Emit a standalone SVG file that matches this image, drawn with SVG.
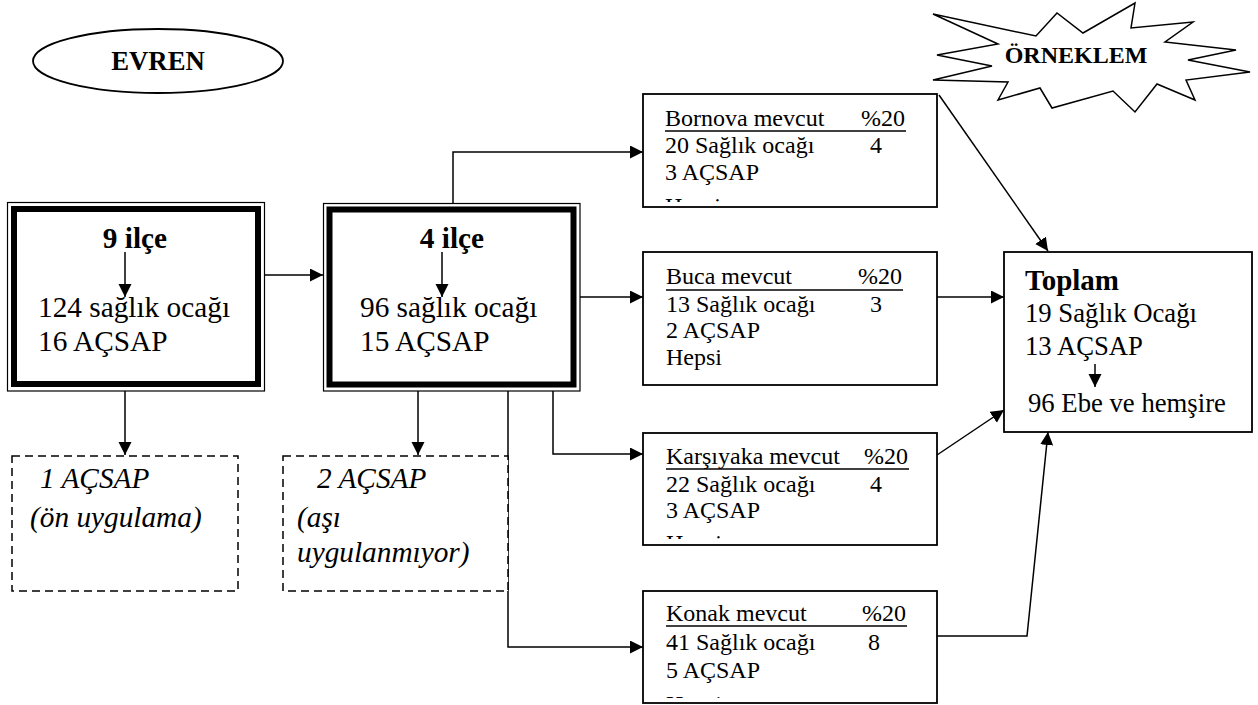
<svg xmlns="http://www.w3.org/2000/svg" width="1258" height="705" viewBox="0 0 1258 705">
<style>
text{font-family:"Liberation Serif","Times New Roman",serif;fill:#000}
.big{font-size:29.3px}
.bigb{font-size:29.3px;font-weight:bold}
.it{font-size:29.3px;font-style:italic}
.sm{font-size:24px}
.md{font-size:26.7px}
.line{fill:none;stroke:#000;stroke-width:1.5}
.arr{fill:none;stroke:#000;stroke-width:1.5;marker-end:url(#ah)}
.box{fill:#fff;stroke:#000;stroke-width:1.8}
.dash{fill:#fff;stroke:#000;stroke-width:1.5;stroke-dasharray:8 5}
</style>
<defs>
<marker id="ah" markerUnits="userSpaceOnUse" markerWidth="14" markerHeight="14" refX="13" refY="6.5" orient="auto">
<path d="M0,0 L13,6.5 L0,13 Z" fill="#000"/>
</marker>
<clipPath id="cBor"><rect x="640" y="90" width="300" height="112"/></clipPath>
<clipPath id="cKar"><rect x="640" y="430" width="300" height="109"/></clipPath>
<clipPath id="cKon"><rect x="640" y="588" width="300" height="110"/></clipPath>
</defs>

<g id="evren">
<ellipse cx="158" cy="61" rx="125" ry="32" fill="#fff" stroke="#000" stroke-width="1.8"/>
<text x="158" y="70" text-anchor="middle" style="font-size:26.7px;font-weight:bold">EVREN</text>
</g>

<g id="orneklem">
<polygon points="933,14 1036,36 1057,13 1083,33 1135,3 1131,28 1193,22 1165,42 1236,50 1188,60 1250,72 1186,80 1195,100 1157,84 1135,112 1113,91 1052,108 1040,88 998,100 1008,82 933,80 992,66 937,55 998,44" fill="#fff" stroke="#000" stroke-width="1.5" stroke-linejoin="miter"/>
<text x="1076" y="63" text-anchor="middle" style="font-size:24px;font-weight:bold">ÖRNEKLEM</text>
</g>

<g id="connectors">
<line class="arr" x1="265" y1="275" x2="323" y2="275"/>
<polyline class="arr" points="453,203 453,152 643,152"/>
<line class="arr" x1="580" y1="297" x2="643" y2="297"/>
<polyline class="arr" points="553,391 553,454 643,454"/>
<polyline class="arr" points="508,391 508,647 643,647"/>
<line class="arr" x1="125" y1="391" x2="125" y2="455"/>
<line class="arr" x1="418" y1="391" x2="418" y2="455"/>
<line class="arr" x1="939" y1="95" x2="1048" y2="251"/>
<line class="arr" x1="937" y1="297" x2="1004" y2="297"/>
<line class="arr" x1="937" y1="455" x2="1004" y2="410"/>
<polyline class="arr" points="937,636 1027,636 1048,432"/>
</g>

<g id="box-9ilce">
<rect x="7.5" y="202.5" width="257" height="188.5" fill="#fff" stroke="#000" stroke-width="1.2"/>
<rect x="14" y="209" width="244" height="175" fill="none" stroke="#000" stroke-width="6"/>
<text class="bigb" x="135" y="248" text-anchor="middle">9 ilçe</text>
<line class="arr" x1="125" y1="252" x2="125" y2="297"/>
<text class="big" x="38" y="317">124 sağlık ocağı</text>
<text class="big" x="38" y="351">16 AÇSAP</text>
</g>

<g id="box-4ilce">
<rect x="323.5" y="203.5" width="256.5" height="187.5" fill="#fff" stroke="#000" stroke-width="1.2"/>
<rect x="329.5" y="209.5" width="244" height="175" fill="none" stroke="#000" stroke-width="6"/>
<text class="bigb" x="452" y="248" text-anchor="middle">4 ilçe</text>
<line class="arr" x1="442" y1="252" x2="442" y2="297"/>
<text class="big" x="360" y="317">96 sağlık ocağı</text>
<text class="big" x="360" y="351">15 AÇSAP</text>
</g>

<g id="dashed-1">
<rect class="dash" x="12" y="456" width="226" height="135"/>
<text class="it" x="40" y="488">1 AÇSAP</text>
<text class="it" x="30" y="527">(ön uygulama)</text>
</g>

<g id="dashed-2">
<rect class="dash" x="283" y="456" width="225" height="135"/>
<text class="it" x="317" y="488">2 AÇSAP</text>
<text class="it" x="297" y="527">(aşı</text>
<text class="it" x="297" y="562">uygulanmıyor)</text>
</g>

<g id="bornova">
<rect class="box" x="643" y="94" width="294" height="113"/>
<text class="sm" x="665" y="126">Bornova mevcut</text>
<text class="sm" x="905" y="126" text-anchor="end">%20</text>
<line x1="665" y1="131" x2="906" y2="131" stroke="#000" stroke-width="1.5"/>
<text class="sm" x="665" y="153">20 Sağlık ocağı</text>
<text class="sm" x="870" y="153">4</text>
<text class="sm" x="665" y="180">3 AÇSAP</text>
<text class="sm" x="665" y="214" clip-path="url(#cBor)">Hepsi</text>
</g>

<g id="buca">
<rect class="box" x="643" y="252" width="294" height="133"/>
<text class="sm" x="666" y="284">Buca mevcut</text>
<text class="sm" x="902" y="284" text-anchor="end">%20</text>
<line x1="666" y1="290" x2="903" y2="290" stroke="#000" stroke-width="1.5"/>
<text class="sm" x="666" y="312">13 Sağlık ocağı</text>
<text class="sm" x="870" y="312">3</text>
<text class="sm" x="666" y="338">2 AÇSAP</text>
<text class="sm" x="666" y="365">Hepsi</text>
</g>

<g id="karsiyaka">
<rect class="box" x="643" y="433" width="294" height="112"/>
<text class="sm" x="666" y="464">Karşıyaka mevcut</text>
<text class="sm" x="908" y="464" text-anchor="end">%20</text>
<line x1="666" y1="469" x2="909" y2="469" stroke="#000" stroke-width="1.5"/>
<text class="sm" x="666" y="492">22 Sağlık ocağı</text>
<text class="sm" x="870" y="492">4</text>
<text class="sm" x="666" y="518">3 AÇSAP</text>
<text class="sm" x="666" y="551" clip-path="url(#cKar)">Hepsi</text>
</g>

<g id="konak">
<rect class="box" x="643" y="591" width="294" height="112"/>
<text class="sm" x="666" y="621">Konak mevcut</text>
<text class="sm" x="906" y="621" text-anchor="end">%20</text>
<line x1="666" y1="626" x2="907" y2="626" stroke="#000" stroke-width="1.5"/>
<text class="sm" x="666" y="650">41 Sağlık ocağı</text>
<text class="sm" x="868" y="650">8</text>
<text class="sm" x="666" y="678">5 AÇSAP</text>
<text class="sm" x="666" y="712" clip-path="url(#cKon)">Hepsi</text>
</g>

<g id="toplam">
<rect class="box" x="1004" y="252" width="248" height="180"/>
<text x="1025" y="290" style="font-size:29px;font-weight:bold">Toplam</text>
<text class="md" x="1025" y="322">19 Sağlık Ocağı</text>
<text class="md" x="1025" y="355">13 AÇSAP</text>
<line class="arr" x1="1095" y1="364" x2="1095" y2="387"/>
<text class="md" x="1028" y="412">96 Ebe ve hemşire</text>
</g>
</svg>
